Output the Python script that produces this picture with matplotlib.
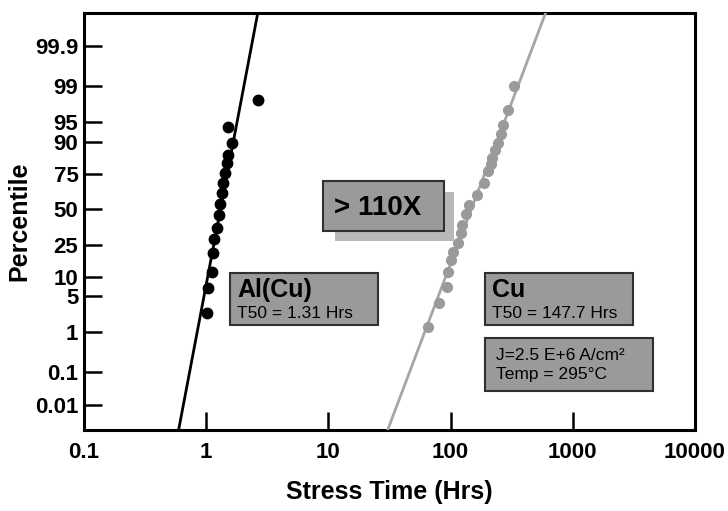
import matplotlib
matplotlib.use("Agg")
import matplotlib.pyplot as plt
from matplotlib.patches import Rectangle
from matplotlib.ticker import NullLocator
from statistics import NormalDist
import numpy as np

plt.rcParams['font.family'] = ['Liberation Sans', 'DejaVu Sans']
plt.rcParams['font.weight'] = 'bold'

# Al(Cu) failure times (hrs) and cumulative percentile
alcu_time = [2.67, 1.51, 1.63, 1.51, 1.49, 1.43, 1.38, 1.35, 1.30, 1.28,
             1.23, 1.16, 1.14, 1.12, 1.04, 1.02]
alcu_pct = [98.1, 94.0, 89.5, 84.7, 80.9, 75.3, 68.9, 61.9, 53.8, 45.5,
            35.9, 28.5, 20.2, 11.6, 6.7, 2.4]

# Cu failure times (hrs) and cumulative percentile
cu_time = [328, 293, 267, 257, 243, 230, 217, 213, 201, 186, 166, 141,
           133, 125, 121, 114, 104, 100, 96, 94, 81, 65]
cu_pct = [99.0, 97.0, 94.5, 92.3, 89.5, 86.8, 83.3, 80.3, 76.5, 68.9,
          60.5, 53.0, 46.2, 38.1, 32.4, 25.9, 20.7, 16.7, 11.6, 6.9, 3.7, 1.25]

# lognormal fits: T50 and log10 slope per sigma
alcu_t50, alcu_slope = 1.31, 0.0819
cu_t50, cu_slope = 147.7, 0.1634

x_ticks = [0.1, 1, 10, 100, 1000, 10000]
x_labels = ['0.1', '1', '10', '100', '1000', '10000']
y_ticks = [0.01, 0.1, 1, 5, 10, 25, 50, 75, 90, 95, 99, 99.9]
y_labels = ['0.01', '0.1', '1', '5', '10', '25', '50', '75', '90', '95', '99', '99.9']

nd = NormalDist()
_ppf = np.vectorize(lambda p: nd.inv_cdf(min(max(p / 100.0, 1e-12), 1 - 1e-12)),
                    otypes=[float])
_cdf = np.vectorize(lambda z: nd.cdf(z) * 100.0, otypes=[float])


def forward(p):
    return _ppf(np.asarray(p, dtype=float))


def inverse(z):
    return _cdf(np.asarray(z, dtype=float))


W, H = 728, 511
fig = plt.figure(figsize=(W / 100, H / 100), dpi=100)
L, R, T, B = 84, 695, 13, 430
ax = fig.add_axes([L / W, 1 - B / H, (R - L) / W, (B - T) / H])
ax.set_xscale('log')
ax.set_yscale('function', functions=(forward, inverse))

zmin, zmax = -4.19, 3.72
ax.set_xlim(0.1, 10000)
ax.set_ylim(float(inverse(zmin)), float(inverse(zmax)))

# fit lines
z = np.linspace(zmin - 0.1, zmax + 0.1, 50)
p_line = inverse(z)
ax.plot(alcu_t50 * 10 ** (alcu_slope * z), p_line, color='black', lw=2, zorder=3)
ax.plot(cu_t50 * 10 ** (cu_slope * z), p_line, color='#a6a6a6', lw=2, zorder=3)

ax.plot(alcu_time, alcu_pct, 'o', color='black', ms=7.5, zorder=4)
ax.plot(cu_time, cu_pct, 'o', color='#9a9a9a', ms=7, zorder=4)

ax.set_xticks(x_ticks)
ax.set_xticklabels(x_labels)
ax.xaxis.set_minor_locator(NullLocator())
ax.set_yticks(y_ticks)
ax.set_yticklabels(y_labels)
ax.yaxis.set_minor_locator(NullLocator())
ax.tick_params(axis='both', direction='in', length=13, width=1.8,
               labelsize=16, colors='black')
ax.tick_params(axis='x', pad=9)
ax.tick_params(axis='y', pad=4)
for lab in ax.get_xticklabels() + ax.get_yticklabels():
    lab.set_fontweight('bold')
for s in ax.spines.values():
    s.set_linewidth(2.2)

ax.set_xlabel('Stress Time (Hrs)', fontsize=18, fontweight='bold', labelpad=12)
ax.set_ylabel('Percentile', fontsize=18, fontweight='bold', labelpad=3)


def px(x, y):
    return ((x - L) / (R - L), (B - y) / (B - T))


def box(x0, y0, x1, y1, fc, ec='#303030', lw=1.5, z=5):
    a0 = px(x0, y1)
    a1 = px(x1, y0)
    ax.add_patch(Rectangle(a0, a1[0] - a0[0], a1[1] - a0[1], transform=ax.transAxes,
                           facecolor=fc, edgecolor=ec, lw=lw, zorder=z, clip_on=False))


small = dict(transform=ax.transAxes, fontsize=12.5, fontweight='normal',
             va='center', ha='left', zorder=7)
big = dict(transform=ax.transAxes, fontsize=18, fontweight='bold',
           va='center', ha='left', zorder=7)

# >110X with shadow
box(335, 192, 454, 241, '#b8b8b8', ec='none', lw=0, z=5)
box(323, 181, 444, 231, '#9a9a9a', z=6)
ax.text(*px(334, 208), '> 110X', **dict(big, fontsize=20))

box(230, 273, 378, 325, '#9a9a9a')
ax.text(*px(237, 290), 'Al(Cu)', **big)
ax.text(*px(237, 313), 'T50 = 1.31 Hrs', **small)

box(485, 273, 633, 325, '#9a9a9a')
ax.text(*px(492, 290), 'Cu', **big)
ax.text(*px(492, 313), 'T50 = 147.7 Hrs', **small)

box(485, 338, 653, 391, '#9a9a9a')
ax.text(*px(496, 355), 'J=2.5 E+6 A/cm²', **small)
ax.text(*px(496, 374), 'Temp = 295°C', **small)

fig.savefig('out.png', dpi=100)
